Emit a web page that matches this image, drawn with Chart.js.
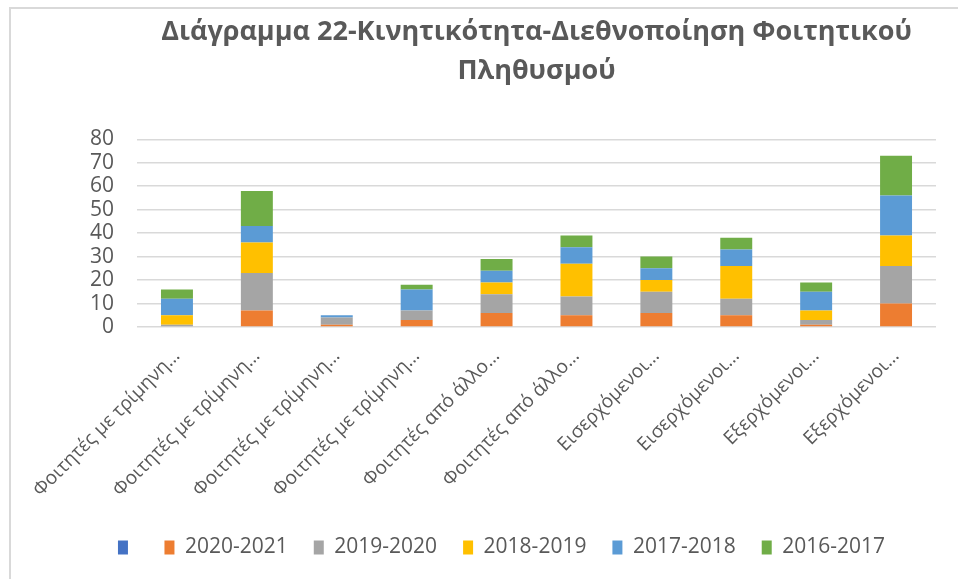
<!DOCTYPE html>
<html>
<head>
<meta charset="utf-8">
<script src="https://cdn.jsdelivr.net/npm/chart.js@4/dist/chart.umd.min.js"></script>
<style>
  html, body { margin: 0; padding: 0; background: #fff; }
  #wrap { position: relative; width: 958px; height: 579px; overflow: hidden; }
  #frame { position: absolute; left: 9px; top: 7px; width: 1200px; height: 900px;
           border-left: 2px solid #d9d9d9; border-top: 2px solid #d9d9d9; }
  canvas { position: absolute; left: 0; top: 0; }
</style>
</head>
<body>
<div id="wrap">
  <div id="frame"></div>
  <canvas id="chart" width="958" height="579"></canvas>
</div>
<script>
// categories (truncated as in the original chart)
const categories = [
    'Φοιτητές με τρίμηνη…',
    'Φοιτητές με τρίμηνη…',
    'Φοιτητές με τρίμηνη…',
    'Φοιτητές με τρίμηνη…',
    'Φοιτητές από άλλο…',
    'Φοιτητές από άλλο…',
    'Εισερχόμενοι…',
    'Εισερχόμενοι…',
    'Εξερχόμενοι…',
    'Εξερχόμενοι…'
];

// series values
const blankSeries = [];
const y2020_2021 = [0, 7, 1, 3, 6, 5, 6, 5, 1, 10];
const y2019_2020 = [1, 16, 3, 4, 8, 8, 9, 7, 2, 16];
const y2018_2019 = [4, 13, 0, 0, 5, 14, 5, 14, 4, 13];
const y2017_2018 = [7, 7, 1, 9, 5, 7, 5, 7, 8, 17];
const y2016_2017 = [4, 15, 0, 2, 5, 5, 5, 5, 4, 17];

const yTicks = [0, 10, 20, 30, 40, 50, 60, 70, 80];

const textColor = '#595959';
const font = "'Open Sans', 'Noto Sans', sans-serif";

function series(label, data, color) {
    return {
        label: label,
        data: data,
        backgroundColor: color,
        borderWidth: 0,
        categoryPercentage: 1.0,
        barPercentage: 0.4
    };
}

const ctx = document.getElementById('chart').getContext('2d');
new Chart(ctx, {
    type: 'bar',
    data: {
        labels: categories,
        datasets: [
            series('', blankSeries, '#4472C4'),
            series('2020-2021', y2020_2021, '#ED7D31'),
            series('2019-2020', y2019_2020, '#A5A5A5'),
            series('2018-2019', y2018_2019, '#FFC000'),
            series('2017-2018', y2017_2018, '#5B9BD5'),
            series('2016-2017', y2016_2017, '#70AD47')
        ]
    },
    options: {
        responsive: false,
        animation: false,
        layout: { padding: { left: 67, right: 22, top: 10, bottom: 11 } },
        plugins: {
            title: {
                display: true,
                fullSize: false,
                text: ['Διάγραμμα 22-Κινητικότητα-Διεθνοποίηση Φοιτητικού', 'Πληθυσμού'],
                color: textColor,
                font: { family: font, size: 27, weight: 'bold', lineHeight: 1.45 },
                padding: { top: 3, bottom: 48 }
            },
            legend: {
                position: 'bottom',
                labels: {
                    color: textColor,
                    font: { family: font, size: 21 },
                    boxWidth: 10,
                    boxHeight: 14,
                    padding: 26
                }
            },
            tooltip: { enabled: false }
        },
        scales: {
            x: {
                stacked: true,
                grid: { display: false },
                border: { display: false },
                afterFit: axis => { axis.height = 184; },
                ticks: {
                    color: textColor,
                    font: { family: font, size: 19 },
                    minRotation: 45,
                    maxRotation: 45,
                    autoSkip: false,
                    padding: 10
                }
            },
            y: {
                stacked: true,
                min: 0,
                max: 80,
                afterBuildTicks: axis => { axis.ticks = yTicks.map(v => ({ value: v })); },
                grid: { color: '#d9d9d9', lineWidth: 1.5, drawTicks: false },
                border: { display: false },
                ticks: {
                    color: textColor,
                    font: { family: font, size: 21 },
                    autoSkip: false,
                    padding: 23
                }
            }
        }
    }
});
</script>
</body>
</html>
